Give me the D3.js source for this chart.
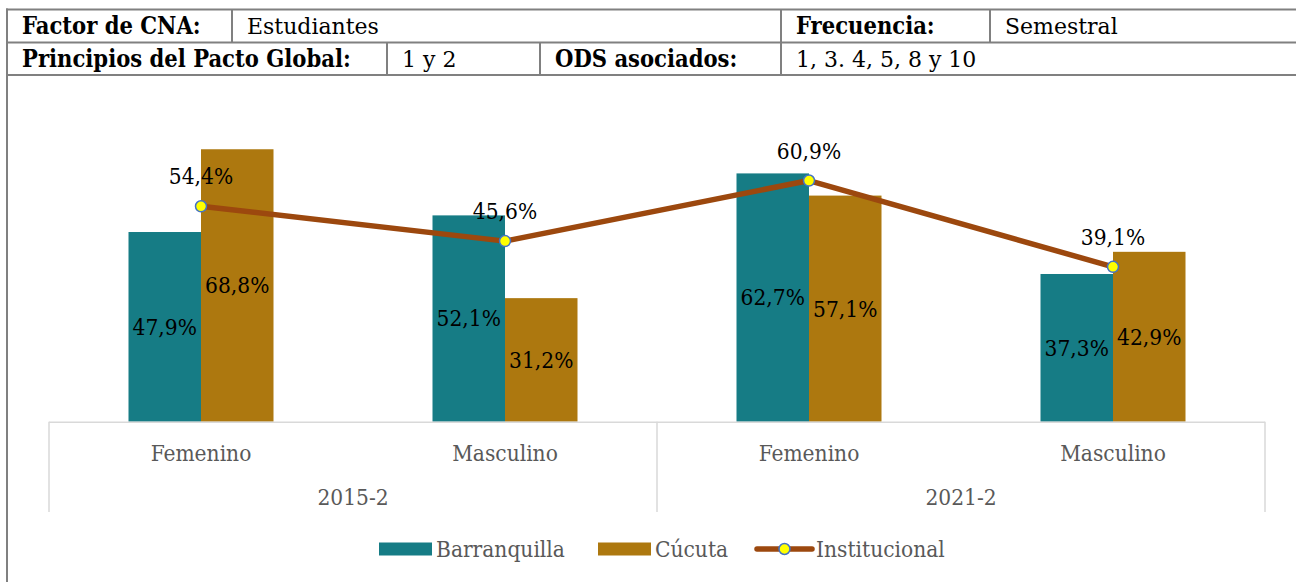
<!DOCTYPE html>
<html>
<head>
<meta charset="utf-8">
<script src="https://cdn.jsdelivr.net/npm/d3@7"></script>
<style>
  body { margin: 0; background: #fff; }
  svg { display: block; }
  text { font-family: "DejaVu Serif Condensed", "DejaVu Serif", serif; }
</style>
</head>
<body>
<div id="chart"></div>
<script>
var categories = ["Femenino", "Masculino", "Femenino", "Masculino"];
var periods = ["2015-2", "2021-2"];
var barranquilla = [47.9, 52.1, 62.7, 37.3];
var cucuta = [68.8, 31.2, 57.1, 42.9];
var institucional = [54.4, 45.6, 60.9, 39.1];
var seriesNames = ["Barranquilla", "Cúcuta", "Institucional"];

var width = 1296;
var height = 582;
var teal = "#167c85", gold = "#ad780f", brown = "#9c480e";
var grid = "#d9d9d9", border = "#808080";

var svg = d3.select("#chart")
    .append("svg")
      .attr("width", width)
      .attr("height", height);

// header table
var rows = [
    [{x: 7, w: 225, t: "Factor de CNA:", b: 1}, {x: 232, w: 549, t: "Estudiantes"},
     {x: 781, w: 209, t: "Frecuencia:", b: 1}, {x: 990, w: 320, t: "Semestral"}],
    [{x: 7, w: 380, t: "Principios del Pacto Global:", b: 1}, {x: 387, w: 153, t: "1 y 2"},
     {x: 540, w: 241, t: "ODS asociados:", b: 1}, {x: 781, w: 529, t: "1, 3. 4, 5, 8 y 10"}]
];
var rowY = [9.5, 42.5, 75];

var head = svg.append("g");
rows.forEach(function(r, i) {
    r.forEach(function(c) {
        head.append("text")
            .attr("x", c.x + (c.b ? 15 : 15))
            .attr("y", rowY[i] + 24)
            .style("font-family", c.b ? '"DejaVu Serif Condensed", serif' : '"DejaVu Serif", serif')
            .attr("font-size", c.b ? "23.5px" : "22px")
            .attr("font-weight", c.b ? "bold" : "normal")
            .attr("fill", "#000")
            .text(c.t);
        if (c.x > 7) {
            head.append("line")
                .attr("x1", c.x).attr("x2", c.x)
                .attr("y1", rowY[i]).attr("y2", rowY[i + 1])
                .attr("stroke", border).attr("stroke-width", 2);
        }
    });
});
rowY.forEach(function(y) {
    head.append("line")
        .attr("x1", 6).attr("x2", width)
        .attr("y1", y).attr("y2", y)
        .attr("stroke", border).attr("stroke-width", 2);
});
head.append("line")
    .attr("x1", 7).attr("x2", 7)
    .attr("y1", 8.5).attr("y2", height)
    .attr("stroke", border).attr("stroke-width", 2);

// scales
var x = d3.scaleBand().domain(d3.range(categories.length)).range([49, 1265]);
var xs = d3.scaleBand().domain([0, 1]).range([-72.5, 72.5]);
var y = d3.scaleLinear().domain([0, 70]).range([421.7, 144.5]);

var bars = [];
categories.forEach(function(c, i) {
    bars.push({i: i, s: 0, v: barranquilla[i], color: teal});
    bars.push({i: i, s: 1, v: cucuta[i], color: gold});
});

function cx(i) { return x(i) + x.bandwidth() / 2; }

svg.append("g")
    .selectAll("rect")
    .data(bars)
    .enter().append("rect")
      .attr("x", function(d) { return cx(d.i) + xs(d.s); })
      .attr("y", function(d) { return y(d.v); })
      .attr("width", xs.bandwidth())
      .attr("height", function(d) { return y(0) - y(d.v); })
      .attr("fill", function(d) { return d.color; });

function fmt(v) { return v.toFixed(1).replace(".", ",") + "%"; }

svg.append("g")
    .selectAll("text")
    .data(bars)
    .enter().append("text")
      .attr("x", function(d) { return cx(d.i) + xs(d.s) + xs.bandwidth() / 2; })
      .attr("y", function(d) { return (y(d.v) + y(0)) / 2; })
      .attr("dy", "0.35em")
      .attr("text-anchor", "middle")
      .attr("font-size", "22.5px")
      .attr("fill", "#000")
      .text(function(d) { return fmt(d.v); });

// axis
var axis = svg.append("g").attr("stroke", grid).attr("stroke-width", 1.5);
axis.append("line")
    .attr("x1", x.range()[0]).attr("x2", x.range()[1])
    .attr("y1", y(0) + 0.5).attr("y2", y(0) + 0.5);
[0, 2, 4].forEach(function(k) {
    var xx = k < categories.length ? x(k) : x.range()[1];
    axis.append("line")
        .attr("x1", xx).attr("x2", xx)
        .attr("y1", y(0)).attr("y2", 512);
});

svg.append("g")
    .selectAll("text")
    .data(categories)
    .enter().append("text")
      .attr("x", function(d, i) { return cx(i); })
      .attr("y", 461)
      .attr("text-anchor", "middle")
      .attr("font-size", "22.5px")
      .attr("fill", "#595959")
      .text(function(d) { return d; });

svg.append("g")
    .selectAll("text")
    .data(periods)
    .enter().append("text")
      .attr("x", function(d, i) { return x(i * 2) + x.bandwidth(); })
      .attr("y", 505)
      .attr("text-anchor", "middle")
      .attr("font-size", "22.5px")
      .attr("fill", "#595959")
      .text(function(d) { return d; });

// line
var line = d3.line()
    .x(function(d, i) { return cx(i); })
    .y(function(d) { return y(d); });

svg.append("path")
    .datum(institucional)
    .attr("d", line)
    .attr("fill", "none")
    .attr("stroke", brown)
    .attr("stroke-width", 5.5)
    .attr("stroke-linejoin", "round");

svg.append("g")
    .selectAll("circle")
    .data(institucional)
    .enter().append("circle")
      .attr("cx", function(d, i) { return cx(i); })
      .attr("cy", function(d) { return y(d); })
      .attr("r", 5.5)
      .attr("fill", "#ffff00")
      .attr("stroke", "#4472c4")
      .attr("stroke-width", 1.5);

svg.append("g")
    .selectAll("text")
    .data(institucional)
    .enter().append("text")
      .attr("x", function(d, i) { return cx(i); })
      .attr("y", function(d) { return y(d) - 22; })
      .attr("text-anchor", "middle")
      .attr("font-size", "22.5px")
      .attr("fill", "#000")
      .text(function(d) { return fmt(d); });

// legend
var legend = svg.append("g").attr("transform", "translate(0,549)");
var legX = [379, 598, 756];
seriesNames.forEach(function(n, i) {
    var g = legend.append("g").attr("transform", "translate(" + legX[i] + ",0)");
    if (i < 2) {
        g.append("rect")
            .attr("x", 0).attr("y", -6.5)
            .attr("width", 53).attr("height", 13)
            .attr("fill", i == 0 ? teal : gold);
    } else {
        g.append("line")
            .attr("x1", 1).attr("x2", 56)
            .attr("y1", 0).attr("y2", 0)
            .attr("stroke", brown).attr("stroke-width", 5.5)
            .attr("stroke-linecap", "round");
        g.append("circle")
            .attr("cx", 28.5).attr("cy", 0).attr("r", 5.5)
            .attr("fill", "#ffff00")
            .attr("stroke", "#4472c4")
            .attr("stroke-width", 1.5);
    }
    g.append("text")
        .attr("x", i < 2 ? 57 : 60)
        .attr("y", 0)
        .attr("dy", "0.35em")
        .attr("font-size", "22.5px")
        .attr("fill", "#595959")
        .text(n);
});
</script>
</body>
</html>
